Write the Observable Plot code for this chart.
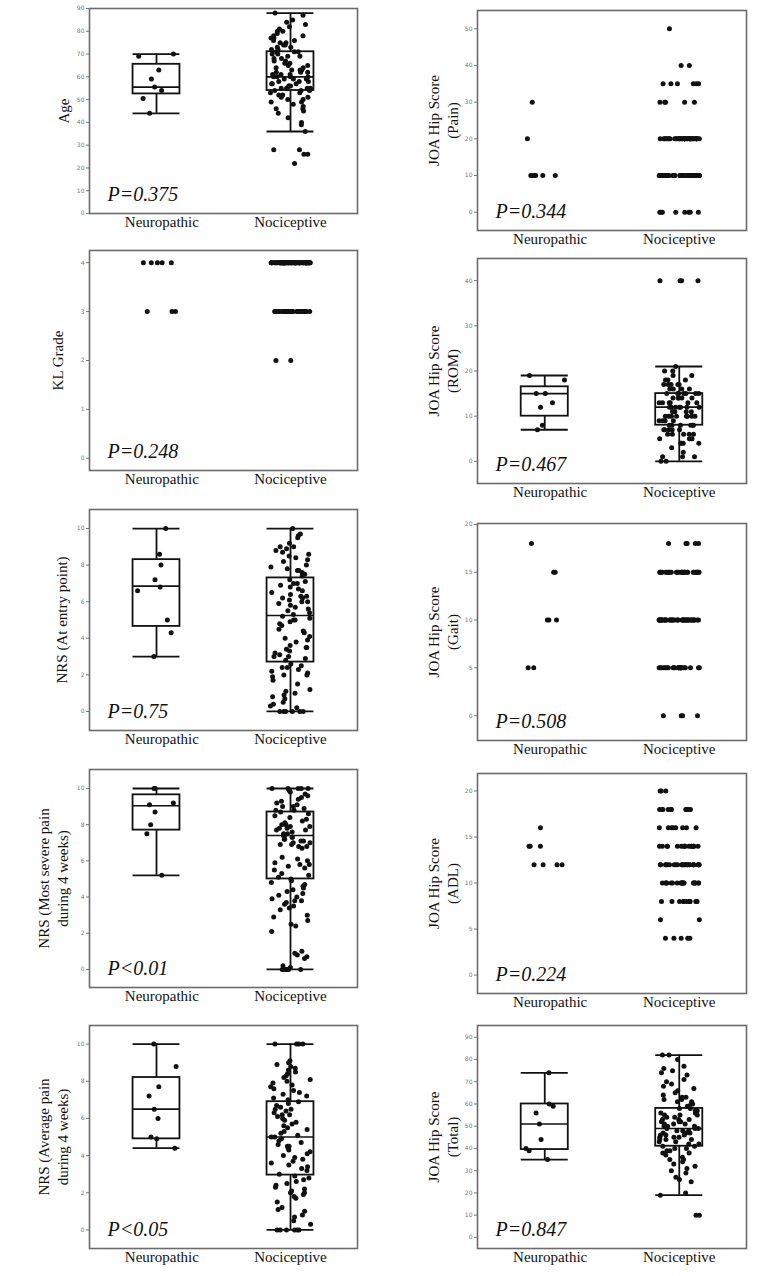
<!DOCTYPE html>
<html><head><meta charset="utf-8">
<script src="https://cdn.jsdelivr.net/npm/d3@7"></script>
<script src="https://cdn.jsdelivr.net/npm/@observablehq/plot@0.6"></script>
<style>
html,body{margin:0;padding:0;background:#fff;}
#root{position:relative;width:774px;height:1276px;overflow:hidden;background:#fff;}
.panel{position:absolute;}
</style>
</head><body><div id="root"></div>
<script>
// ---------- categories ----------
const groups = ["Neuropathic", "Nociceptive"];

// ---------- Age ----------
const ageNeuro = [70, 69, 63, 59, 55.5, 54, 50.5, 44];
const ageNoci = [88, 87, 85, 84, 83, 82, 81, 80, 80, 79, 78, 78, 77, 77, 76, 76, 75, 75, 74, 74, 73, 73, 72, 72, 71, 71, 71, 70, 70, 69, 69, 68, 68, 67, 67, 66, 66, 65, 65, 64, 64, 63, 63, 63, 62, 62, 62, 61, 61, 61, 60, 60, 60, 60, 59, 59, 59, 58, 58, 58, 57, 57, 57, 56, 56, 56, 55, 55, 55, 55, 54, 54, 54, 53, 53, 52, 52, 51, 51, 50, 50, 49, 49, 48, 47, 46, 46, 45, 44, 42, 40, 39, 36, 28, 28, 26, 26, 22];
const ageBoxNeuro = [44, 52.5, 55.5, 65.5, 70];   // lo, q1, median, q3, hi
const ageBoxNoci = [36, 54, 60, 71, 88];

// ---------- KL grade (value, count) ----------
const klNeuro = [[4, 5], [3, 3]];
const klNoci = [[4, 85], [3, 30], [2, 2]];

// ---------- NRS at entry ----------
const nrsEntryNeuro = [10, 8.6, 8.0, 7.2, 6.8, 6.6, 5.0, 4.3, 3.0];
const nrsEntryNoci = [10, 9.7, 9.6, 9.5, 9.2, 9.0, 9.0, 8.9, 8.8, 8.7, 8.6, 8.5, 8.4, 8.3, 8.2, 8.0, 7.9, 7.8, 7.7, 7.7, 7.6, 7.5, 7.4, 7.2, 7.1, 7.0, 7.0, 6.9, 6.8, 6.7, 6.6, 6.5, 6.4, 6.3, 6.3, 6.2, 6.2, 6.1, 6.0, 6.0, 5.9, 5.8, 5.7, 5.6, 5.5, 5.4, 5.3, 5.2, 5.1, 5.0, 5.0, 4.9, 4.8, 4.7, 4.5, 4.4, 4.3, 4.1, 4.0, 3.9, 3.8, 3.6, 3.5, 3.5, 3.4, 3.3, 3.2, 3.1, 3.0, 3.0, 2.9, 2.8, 2.6, 2.5, 2.4, 2.4, 2.3, 2.2, 2.1, 2.0, 2.0, 1.9, 1.7, 1.5, 1.2, 1.1, 1.0, 0.9, 0.8, 0.7, 0.5, 0.4, 0.3, 0.2, 0, 0, 0, 0, 0, 0];
const nrsEntryBoxNeuro = [3, 4.65, 6.85, 8.3, 10];
const nrsEntryBoxNoci = [0, 2.7, 5.25, 7.3, 10];

// ---------- NRS most severe pain ----------
const nrsMostNeuro = [10, 10, 9.2, 9.1, 8.7, 8.0, 7.5, 5.2];
const nrsMostNoci = [10, 10, 10, 10, 10, 9.9, 9.8, 9.7, 9.6, 9.5, 9.4, 9.3, 9.2, 9.1, 9.0, 9.0, 8.9, 8.8, 8.8, 8.7, 8.6, 8.5, 8.4, 8.3, 8.2, 8.1, 8.0, 8.0, 7.9, 7.9, 7.8, 7.8, 7.7, 7.7, 7.6, 7.5, 7.5, 7.4, 7.4, 7.3, 7.3, 7.2, 7.2, 7.1, 7.1, 7.0, 7.0, 6.9, 6.9, 6.8, 6.8, 6.7, 6.2, 6.1, 6.0, 5.9, 5.8, 5.8, 5.7, 5.6, 5.5, 5.3, 5.2, 5.1, 5.0, 4.9, 4.8, 4.7, 4.6, 4.5, 4.4, 4.3, 4.2, 4.1, 4.0, 3.9, 3.8, 3.8, 3.7, 3.6, 3.5, 3.4, 3.3, 3.0, 2.9, 2.7, 2.5, 2.4, 2.1, 1.0, 0.9, 0.8, 0.7, 0.6, 0.2, 0.1, 0, 0, 0, 0, 0, 0];
const nrsMostBoxNeuro = [5.2, 7.7, 9.05, 9.65, 10];
const nrsMostBoxNoci = [0, 5.0, 7.4, 8.7, 10];

// ---------- NRS average pain ----------
const nrsAvgNeuro = [10, 8.8, 7.7, 7.2, 6.5, 6.0, 5.0, 4.9, 4.4];
const nrsAvgNoci = [10, 10, 10, 10, 9.1, 9.0, 8.9, 8.8, 8.7, 8.6, 8.5, 8.4, 8.3, 8.2, 8.1, 8.0, 7.9, 7.8, 7.7, 7.6, 7.5, 7.4, 7.3, 7.2, 7.1, 7.0, 6.9, 6.8, 6.7, 6.6, 6.5, 6.5, 6.4, 6.3, 6.2, 6.2, 6.1, 6.0, 5.9, 5.8, 5.7, 5.6, 5.5, 5.4, 5.3, 5.2, 5.1, 5.0, 5.0, 4.9, 4.8, 4.7, 4.6, 4.5, 4.5, 4.4, 4.3, 4.2, 4.1, 4.0, 3.9, 3.8, 3.7, 3.6, 3.5, 3.4, 3.3, 3.2, 3.0, 2.9, 2.8, 2.7, 2.6, 2.5, 2.4, 2.3, 2.2, 2.1, 2.0, 2.0, 1.9, 1.8, 1.7, 1.5, 1.2, 1.1, 1.0, 0.8, 0.7, 0.5, 0.3, 0, 0, 0, 0, 0, 0];
const nrsAvgBoxNeuro = [4.4, 4.9, 6.5, 8.2, 10];
const nrsAvgBoxNoci = [0, 2.95, 5.0, 6.9, 10];

// ---------- JOA Pain (value, count) ----------
const painNeuro = [[30, 1], [20, 1], [10, 6]];
const painNoci = [[50, 1], [40, 2], [35, 6], [30, 5], [20, 40], [10, 50], [0, 8]];

// ---------- JOA ROM ----------
const romNeuro = [19, 18, 15, 15, 13, 12, 8, 7];
const romNoci = [40, 40, 40, 40, 21, 20, 20, 19, 19, 18, 18, 18, 17, 17, 17, 17, 17, 16, 16, 16, 16, 15, 15, 15, 15, 15, 15, 15, 14, 14, 14, 14, 14, 13, 13, 13, 13, 13, 13, 12, 12, 12, 12, 12, 12, 12, 11, 11, 11, 11, 11, 10, 10, 10, 10, 10, 10, 10, 10, 9, 9, 9, 9, 9, 8, 8, 8, 8, 8, 8, 7, 7, 7, 7, 7, 6, 6, 6, 6, 6, 5, 5, 5, 4, 4, 4, 4, 3, 2, 1, 1, 1, 0, 0];
const romBoxNeuro = [7, 10, 15, 16.5, 19];
const romBoxNoci = [0, 8, 12, 15, 21];

// ---------- JOA Gait (value, count) ----------
const gaitNeuro = [[18, 1], [15, 2], [10, 3], [5, 2]];
const gaitNoci = [[18, 5], [15, 30], [10, 45], [5, 25], [0, 4]];

// ---------- JOA ADL (value, count) ----------
const adlNeuro = [[16, 1], [14, 3], [12, 4]];
const adlNoci = [[20, 3], [18, 10], [16, 8], [14, 15], [12, 25], [10, 20], [8, 12], [6, 2], [4, 5]];

// ---------- JOA Total ----------
const totalNeuro = [74, 60, 59, 56, 51, 44, 40, 39, 35];
const totalNoci = [82, 82, 80, 77, 76, 75, 74, 73, 71, 70, 69, 68, 67, 66, 65, 64, 63, 63, 62, 62, 61, 61, 60, 60, 59, 58, 58, 57, 57, 56, 56, 55, 55, 55, 54, 54, 53, 53, 53, 52, 52, 52, 51, 51, 51, 50, 50, 50, 49, 49, 49, 48, 48, 48, 47, 47, 47, 46, 46, 46, 45, 45, 45, 44, 44, 44, 43, 43, 42, 42, 41, 41, 40, 40, 39, 39, 38, 38, 37, 36, 35, 35, 34, 33, 32, 31, 30, 29, 27, 26, 25, 20, 19, 10, 10];
const totalBoxNeuro = [35, 39.5, 51, 60, 74];
const totalBoxNoci = [19, 41, 49, 58, 82];

// ---------- panel definitions ----------
const expand = (pairs) => pairs.flatMap(([v, n]) => Array.from({length: n}, () => v));

const panels = [
  {col: 0, top: 8,    h: 205, title: "Age", pText: "P=0.375", domain: [0, 90], ticks: d3.range(0, 91, 10),
   neuro: ageNeuro, noci: ageNoci, box: [ageBoxNeuro, ageBoxNoci], ldx: 27},
  {col: 0, top: 250,  h: 220, title: "KL Grade", pText: "P=0.248", domain: [-0.25, 4.25], ticks: [0, 1, 2, 3, 4],
   neuro: expand(klNeuro), noci: expand(klNoci), box: null, ldx: 33},
  {col: 0, top: 509,  h: 221, title: "NRS (At entry point)", pText: "P=0.75", domain: [-1.04, 11.04], ticks: [0, 2, 4, 6, 8, 10],
   neuro: nrsEntryNeuro, noci: nrsEntryNoci, box: [nrsEntryBoxNeuro, nrsEntryBoxNoci], ldx: 29},
  {col: 0, top: 769,  h: 218, title: "NRS (Most severe pain\nduring 4 weeks)", pText: "P<0.01", domain: [-1, 11.05], ticks: [0, 2, 4, 6, 8, 10],
   neuro: nrsMostNeuro, noci: nrsMostNoci, box: [nrsMostBoxNeuro, nrsMostBoxNoci], ldx: 37},
  {col: 0, top: 1025, h: 223, title: "NRS (Average pain\nduring 4 weeks)", pText: "P<0.05", domain: [-1, 11], ticks: [0, 2, 4, 6, 8, 10],
   neuro: nrsAvgNeuro, noci: nrsAvgNoci, box: [nrsAvgBoxNeuro, nrsAvgBoxNoci], ldx: 37},
  {col: 1, top: 10,   h: 220, title: "JOA Hip Score\n(Pain)", pText: "P=0.344", domain: [-5, 55], ticks: d3.range(0, 51, 10),
   neuro: expand(painNeuro), noci: expand(painNoci), box: null, ldx: 35},
  {col: 1, top: 258,  h: 225, title: "JOA Hip Score\n(ROM)", pText: "P=0.467", domain: [-4.9, 44.9], ticks: d3.range(0, 41, 10),
   neuro: romNeuro, noci: romNoci, box: [romBoxNeuro, romBoxNoci], ldx: 35},
  {col: 1, top: 523,  h: 217, title: "JOA Hip Score\n(Gait)", pText: "P=0.508", domain: [-2.6, 20.1], ticks: [0, 5, 10, 15, 20],
   neuro: expand(gaitNeuro), noci: expand(gaitNoci), box: null, ldx: 35},
  {col: 1, top: 773,  h: 220, title: "JOA Hip Score\n(ADL)", pText: "P=0.224", domain: [-2, 21.9], ticks: [0, 5, 10, 15, 20],
   neuro: expand(adlNeuro), noci: expand(adlNoci), box: null, ldx: 35},
  {col: 1, top: 1025, h: 223, title: "JOA Hip Score\n(Total)", pText: "P=0.847", domain: [-5, 95.3], ticks: d3.range(0, 91, 10),
   neuro: totalNeuro, noci: totalNoci, box: [totalBoxNeuro, totalBoxNoci], ldx: 35}
];

const serif = "'Liberation Serif', 'Times New Roman', serif";
const ink = "#111";
const MT = 8, MB = 30;
// deterministic horizontal jitter (display offset only, not data)
const jit = (i) => {
  const s = Math.sin((i + 1) * 12.9898) * 43758.5453;
  return ((s - Math.floor(s)) - 0.5) * 0.3;
};

const root = document.getElementById("root");
panels.forEach((p, k) => {
  const pts = [
    ...p.neuro.map((v, i) => ({x: 0.5 + jit(i + 200 * k), y: v})),
    ...p.noci.map((v, i) => ({x: 1.5 + jit(i + 200 * k + 50), y: v}))
  ];
  const marks = [
    Plot.frame({stroke: "#6b6b6b", strokeWidth: 1.6}),
    Plot.axisY({ticks: p.ticks, tickFormat: (d) => String(d), tickSize: 3, tickPadding: 2, fontSize: 6, color: "#777",
      label: null, fontFamily: "DejaVu Sans"}),
    Plot.axisX({ticks: [0.54, 1.5], tickFormat: (d) => groups[d < 1 ? 0 : 1], tickSize: 0, tickPadding: 3,
      fontSize: 15, fontFamily: serif, fill: ink, label: null}),
  ];
  if (p.box) {
    const boxes = p.box.map((b, i) => ({x: 0.5 + i, lo: b[0], q1: b[1], med: b[2], q3: b[3], hi: b[4]}));
    const hw = 0.175;
    marks.push(
      Plot.ruleX(boxes, {x: "x", y1: "lo", y2: "q1", stroke: ink, strokeWidth: 1.8}),
      Plot.ruleX(boxes, {x: "x", y1: "q3", y2: "hi", stroke: ink, strokeWidth: 1.8}),
      Plot.ruleY(boxes, {y: "lo", x1: (d) => d.x - hw, x2: (d) => d.x + hw, stroke: ink, strokeWidth: 1.8}),
      Plot.ruleY(boxes, {y: "hi", x1: (d) => d.x - hw, x2: (d) => d.x + hw, stroke: ink, strokeWidth: 1.8}),
      Plot.rect(boxes, {x1: (d) => d.x - hw, x2: (d) => d.x + hw, y1: "q1", y2: "q3", fill: "none", stroke: ink, strokeWidth: 1.8}),
      Plot.ruleY(boxes, {y: "med", x1: (d) => d.x - hw, x2: (d) => d.x + hw, stroke: ink, strokeWidth: 1.6})
    );
  }
  marks.push(
    Plot.dot(pts, {x: "x", y: "y", r: 2.5, fill: ink, stroke: "none"}),
    Plot.text([p.title], {text: (d) => d, frameAnchor: "left", dx: -p.ldx, rotate: -90, textAnchor: "middle",
      lineAnchor: "middle", lineHeight: 1.25, fontSize: 15, fontFamily: serif, fill: ink}),
    Plot.text([p.pText], {text: (d) => d, frameAnchor: "bottom-left", dx: 18, dy: -13, textAnchor: "start",
      lineAnchor: "bottom", fontSize: 20, fontStyle: "italic", fontFamily: serif, fill: ink})
  );
  const chart = Plot.plot({
    width: 387,
    height: p.h + MT + MB,
    marginTop: MT,
    marginBottom: MB,
    marginLeft: p.col === 0 ? 89 : 90,
    marginRight: p.col === 0 ? 30 : 28,
    x: {domain: [0, 2], axis: null},
    y: {domain: p.domain, axis: null},
    style: {background: "transparent", overflow: "visible", fontFamily: serif},
    marks
  });
  chart.classList.add("panel");
  chart.style.left = (p.col * 387) + "px";
  chart.style.top = (p.top - MT) + "px";
  root.appendChild(chart);
});
</script>
</body></html>
